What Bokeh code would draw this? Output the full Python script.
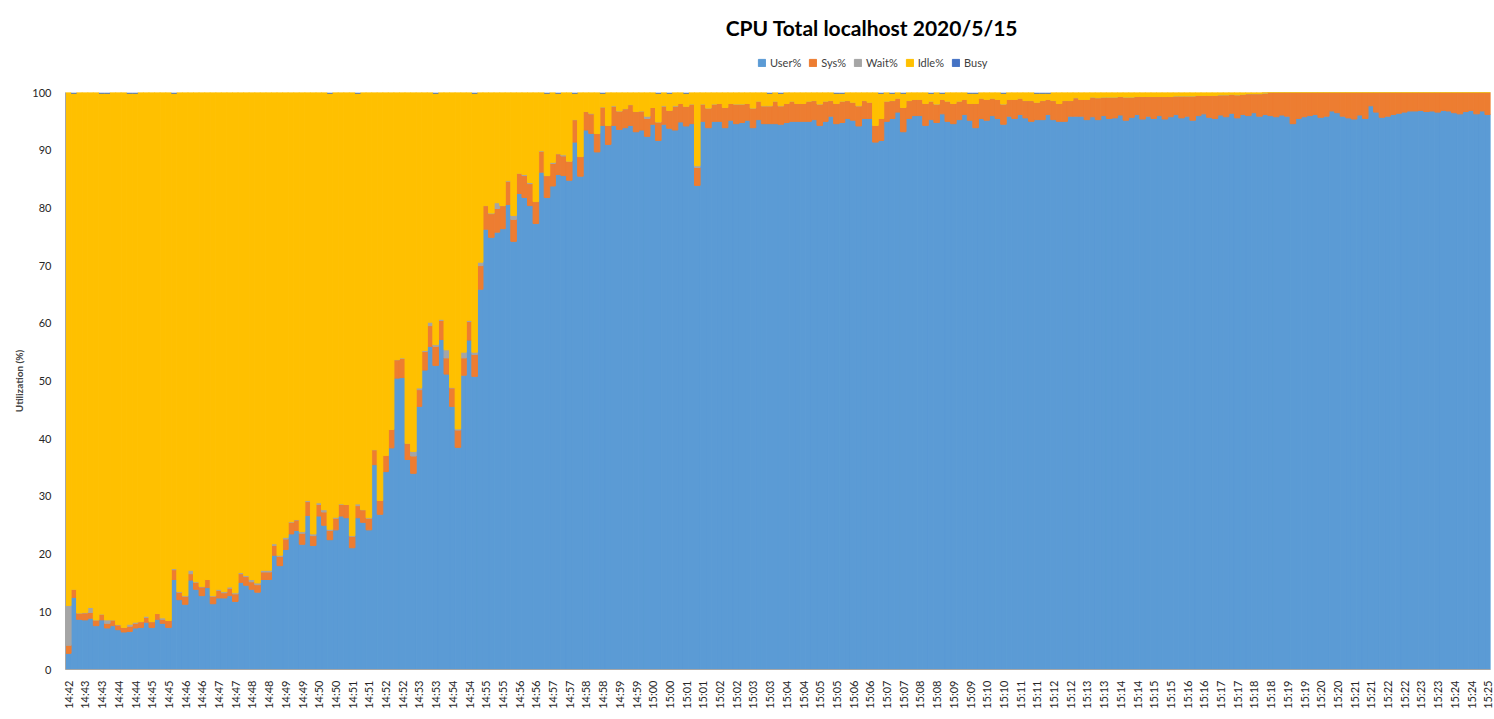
import math
from bokeh.plotting import figure
from bokeh.layouts import column
from bokeh.models import ColumnDataSource, Range1d, FixedTicker, Legend, LegendItem, Label
from bokeh.embed import file_html
from bokeh.resources import INLINE

title_text = "CPU Total localhost  2020/5/15"
series_names = ["User%", "Sys%", "Wait%", "Idle%", "Busy"]
series_colors = ["#5B9BD5", "#ED7D31", "#A5A5A5", "#FFC000", "#4472C4"]

tick_labels = [
    "14:42",
    "14:43", "14:43", "14:44", "14:44", "14:45", "14:45", "14:46", "14:46",
    "14:47", "14:47", "14:48", "14:48", "14:49", "14:49", "14:50", "14:50",
    "14:51", "14:51", "14:52", "14:52", "14:53", "14:53", "14:54", "14:54",
    "14:55", "14:55", "14:56", "14:56", "14:57", "14:57", "14:58", "14:58",
    "14:59", "14:59", "15:00", "15:00", "15:01", "15:01", "15:02", "15:02",
    "15:03", "15:03", "15:04", "15:04", "15:05", "15:05", "15:06", "15:06",
    "15:07", "15:07", "15:08", "15:08", "15:09", "15:09", "15:10", "15:10",
    "15:11", "15:11", "15:12", "15:12", "15:13", "15:13", "15:14", "15:14",
    "15:15", "15:15", "15:16", "15:16", "15:17", "15:17", "15:18", "15:18",
    "15:19", "15:19", "15:20", "15:20", "15:21", "15:21", "15:22", "15:22",
    "15:23", "15:23", "15:24", "15:24",
    "15:25",
]

user = [
    2.8, 12.5, 8.7, 8.6, 8.9, 7.6, 8.6, 7.2, 7.6, 6.9,
    6.5, 6.6, 7.2, 7.3, 8.2, 7.3, 8.7, 8.0, 7.3, 15.6,
    12.1, 11.3, 15.5, 13.9, 12.8, 14.2, 11.4, 12.4, 12.4, 12.8,
    11.8, 15.1, 14.6, 13.9, 13.4, 15.6, 15.6, 19.8, 18.0, 20.8,
    23.5, 24.1, 21.7, 26.7, 21.5, 26.6, 25.0, 22.5, 24.2, 26.6,
    26.3, 21.1, 26.3, 25.5, 24.2, 35.5, 26.9, 34.3, 38.4, 50.5,
    50.6, 36.4, 34.0, 45.6, 51.9, 56.0, 52.7, 57.2, 51.2, 45.6,
    38.5, 51.0, 57.1, 50.8, 65.9, 76.3, 74.9, 75.8, 76.4, 80.6,
    74.2, 82.5, 81.8, 80.4, 77.3, 86.2, 81.8, 83.8, 85.8, 85.6,
    84.8, 91.4, 85.5, 93.5, 92.9, 89.7, 94.3, 91.0, 94.3, 93.6,
    93.9, 94.3, 93.2, 93.5, 92.4, 94.5, 91.7, 94.5, 93.8, 93.5,
    94.9, 94.2, 94.6, 83.9, 95.0, 93.9, 95.0, 95.0, 93.9, 95.2,
    94.6, 94.8, 95.2, 93.9, 95.3, 94.6, 94.6, 94.6, 94.5, 94.8,
    95.0, 95.0, 95.0, 95.0, 95.3, 94.3, 95.0, 95.9, 94.6, 94.8,
    95.5, 95.2, 94.2, 95.5, 95.5, 91.4, 91.7, 95.0, 95.5, 96.6,
    93.2, 95.5, 96.0, 96.0, 94.3, 95.3, 94.8, 96.3, 95.0, 94.6,
    95.3, 96.2, 95.2, 93.9, 95.5, 95.2, 96.0, 95.5, 94.5, 95.9,
    95.5, 96.2, 95.6, 95.0, 95.3, 95.3, 96.2, 95.3, 95.0, 95.0,
    95.9, 95.9, 95.9, 95.3, 95.8, 95.3, 96.0, 95.5, 95.6, 96.1,
    95.2, 95.7, 96.2, 95.4, 95.9, 95.5, 96.0, 95.4, 95.8, 96.2,
    95.6, 95.9, 95.2, 96.0, 96.3, 95.7, 95.5, 96.1, 95.8, 96.4,
    95.6, 96.2, 96.0, 96.5, 95.9, 96.2, 96.0, 95.8, 96.1, 95.9,
    94.6, 95.5, 95.8, 96.0, 96.2, 95.7, 95.9, 96.8, 96.5, 95.9,
    95.6, 95.4, 96.1, 95.5, 97.7, 96.6, 95.7, 95.9, 96.2, 96.4,
    96.6, 96.8, 96.8, 96.9, 96.7, 96.8, 96.6, 96.9, 96.8, 96.5,
    96.3, 96.7, 96.9, 96.3, 96.8, 96.2,
]

sys_pct = [
    1.4, 1.4, 1.1, 1.2, 1.0, 1.0, 1.0, 0.8, 1.0, 0.8,
    0.8, 0.9, 0.8, 1.0, 0.8, 1.0, 1.0, 0.7, 1.2, 1.7,
    1.3, 1.4, 1.1, 1.2, 1.5, 1.4, 1.3, 1.3, 0.9, 1.3,
    1.3, 1.5, 1.5, 1.3, 1.3, 1.3, 1.3, 1.7, 1.6, 1.8,
    2.0, 1.8, 1.9, 2.4, 1.7, 2.0, 2.3, 1.6, 2.0, 2.0,
    2.3, 2.0, 2.1, 2.2, 2.0, 2.6, 2.4, 2.8, 3.2, 3.2,
    3.3, 2.8, 3.0, 2.9, 3.2, 3.6, 3.3, 3.3, 2.8, 3.2,
    3.0, 3.0, 3.2, 3.8, 4.1, 4.1, 4.1, 4.1, 4.0, 4.0,
    3.8, 3.5, 3.8, 3.8, 3.8, 3.6, 3.8, 3.9, 3.6, 3.4,
    3.3, 3.9, 3.4, 3.2, 3.4, 3.2, 3.2, 3.3, 3.3, 3.2,
    3.3, 3.6, 3.5, 3.3, 3.1, 2.9, 3.2, 3.1, 3.1, 4.1,
    3.2, 3.4, 3.4, 3.1, 3.0, 3.4, 3.0, 3.1, 3.5, 2.9,
    3.4, 3.2, 2.9, 3.4, 3.2, 3.1, 3.1, 3.9, 3.2, 3.3,
    3.5, 3.1, 3.1, 3.5, 3.3, 3.7, 3.5, 2.7, 3.5, 3.7,
    3.1, 3.1, 3.5, 3.1, 2.8, 2.9, 3.8, 3.5, 3.1, 2.4,
    4.2, 3.1, 2.8, 2.8, 3.8, 3.2, 3.2, 2.5, 3.5, 3.5,
    3.2, 2.6, 2.9, 4.2, 3.5, 3.6, 3.0, 3.3, 3.5, 2.9,
    3.3, 2.8, 3.0, 3.6, 3.0, 3.3, 2.6, 3.3, 3.1, 3.6,
    2.7, 3.2, 2.9, 3.5, 3.4, 3.8, 3.2, 3.7, 3.6, 3.2,
    4.0, 3.5, 3.1, 3.9, 3.4, 3.8, 3.3, 3.9, 3.5, 3.2,
    3.8, 3.5, 4.2, 3.5, 3.2, 3.8, 4.0, 3.5, 3.8, 3.3,
    4.0, 3.5, 3.8, 3.3, 3.9, 3.7, 4.0, 4.2, 3.9, 4.1,
    5.4, 4.5, 4.2, 4.0, 3.8, 4.3, 4.1, 3.2, 3.5, 4.1,
    4.4, 4.6, 3.9, 4.5, 2.3, 3.4, 4.3, 4.1, 3.8, 3.6,
    3.4, 3.2, 3.2, 3.1, 3.3, 3.2, 3.4, 3.1, 3.2, 3.5,
    3.7, 3.3, 3.1, 3.7, 3.2, 3.8,
]

wait = [
    6.9, 0.0, 0.0, 0.1, 0.85, 0.0, 0.0, 0.6, 0.0, 0.1,
    0.0, 0.35, 0.2, 0.0, 0.25, 0.0, 0.0, 0.25, 0.0, 0.2,
    0.1, 0.1, 0.6, 0.1, 0.1, 0.0, 0.1, 0.2, 0.2, 0.2,
    0.2, 0.2, 0.2, 0.4, 0.3, 0.3, 0.3, 0.3, 0.2, 0.3,
    0.1, 0.1, 0.3, 0.2, 0.3, 0.3, 0.4, 0.2, 0.2, 0.1,
    0.0, 0.1, 0.3, 0.0, 0.1, 0.0, 0.0, 0.0, 0.0, 0.0,
    0.1, 0.0, 0.8, 0.3, 0.2, 0.6, 0.3, 0.2, 1.4, 0.1,
    0.2, 1.0, 0.2, 0.4, 0.6, 0.0, 0.1, 1.0, 0.0, 0.1,
    0.7, 0.0, 0.2, 0.2, 0.0, 0.1, 0.0, 0.2, 0.0, 0.2,
    0.0, 0.0, 0.0, 0.0, 0.1, 0.0, 0.0, 0.0, 0.1, 0.0,
    0.0, 0.0, 0.0, 0.0, 0.4, 0.0, 0.0, 0.1, 0.0, 0.1,
    0.0, 0.0, 0.0, 0.3, 0.0, 0.0, 0.0, 0.0, 0.0, 0.0,
    0.0, 0.0, 0.0, 0.0, 0.0, 0.0, 0.0, 0.0, 0.0, 0.0,
    0.0, 0.0, 0.0, 0.0, 0.0, 0.0, 0.0, 0.0, 0.0, 0.0,
    0.0, 0.0, 0.0, 0.0, 0.0, 0.0, 0.0, 0.0, 0.0, 0.0,
    0.0, 0.0, 0.0, 0.0, 0.0, 0.0, 0.0, 0.0, 0.0, 0.0,
    0.0, 0.0, 0.0, 0.0, 0.0, 0.0, 0.0, 0.0, 0.0, 0.0,
    0.0, 0.0, 0.0, 0.0, 0.0, 0.0, 0.0, 0.0, 0.0, 0.0,
    0.0, 0.0, 0.0, 0.0, 0.0, 0.0, 0.0, 0.0, 0.0, 0.0,
    0.0, 0.0, 0.0, 0.0, 0.0, 0.0, 0.0, 0.0, 0.0, 0.0,
    0.0, 0.0, 0.0, 0.0, 0.0, 0.0, 0.0, 0.0, 0.0, 0.0,
    0.0, 0.0, 0.0, 0.0, 0.0, 0.0, 0.0, 0.0, 0.0, 0.0,
    0.0, 0.0, 0.0, 0.0, 0.0, 0.0, 0.0, 0.0, 0.0, 0.0,
    0.0, 0.0, 0.0, 0.0, 0.0, 0.0, 0.0, 0.0, 0.0, 0.0,
    0.0, 0.0, 0.0, 0.0, 0.0, 0.0, 0.0, 0.0, 0.0, 0.0,
    0.0, 0.0, 0.0, 0.0, 0.0, 0.0,
]

# bars where a thin sliver of the Busy series shows under the 100% line
busy_sliver_bars = [1, 6, 7, 11, 12, 19, 47, 52, 66, 73, 86, 88, 91, 96, 106, 108, 111,
                    126, 128, 138, 139, 146, 148, 150, 155, 157, 162, 163, 168, 174, 175, 176]

n = len(user)
xs = list(range(n))
idle = []
for i in range(n):
    rest = 100.0 - user[i] - sys_pct[i] - wait[i]
    if i in busy_sliver_bars:
        rest -= 0.2
    idle.append(max(0.0, rest))
busy = [u + s for u, s in zip(user, sys_pct)]

src = ColumnDataSource(dict(x=xs, user=user, sys=sys_pct, wait=wait, idle=idle, busy=busy))

W = 1494
HEAD_H = 84
FRAME_L = 65
FRAME_R = 1490

# ---------------- header: title + legend ----------------
head = figure(width=W, height=HEAD_H, output_backend="svg", toolbar_location=None,
              x_range=Range1d(FRAME_L, FRAME_R), y_range=Range1d(0, HEAD_H),
              x_axis_location=None, y_axis_location=None,
              min_border_left=FRAME_L, min_border_right=W - FRAME_R,
              min_border_top=0, min_border_bottom=0)
head.outline_line_color = None
head.xgrid.grid_line_color = None
head.ygrid.grid_line_color = None

# one off-screen row so that legend swatches get drawn
dummy = ColumnDataSource(dict(x=[-1000], top=[0]))
legend_rends = [head.vbar(x="x", top="top", width=1, source=dummy,
                          fill_color=c, line_color=c) for c in series_colors]

legend = Legend(items=[LegendItem(label=nm, renderers=[r]) for nm, r in zip(series_names, legend_rends)],
                orientation="horizontal", location=(757 - FRAME_L, 15))
legend.border_line_color = None
legend.background_fill_alpha = 0
legend.padding = 0
legend.margin = 0
legend.spacing = 7
legend.glyph_width = 9
legend.glyph_height = 9
legend.label_height = 14
legend.label_standoff = 4
legend.label_text_font = "Lato"
legend.label_text_font_size = "11px"
legend.label_text_color = "#404040"
head.add_layout(legend)

title = Label(x=874, y=HEAD_H - 27, text=title_text,
              text_align="center", text_baseline="middle",
              text_font="Lato", text_font_style="bold", text_font_size="21px",
              text_color="#000000")
head.add_layout(title)

# ---------------- main chart ----------------
p = figure(width=W, height=719 - HEAD_H, output_backend="svg", toolbar_location=None,
           x_range=Range1d(-0.5, n - 0.5), y_range=Range1d(0, 100),
           min_border_left=FRAME_L, min_border_right=W - FRAME_R, min_border_top=8, min_border_bottom=50)
p.outline_line_color = None
p.xgrid.grid_line_color = None
p.ygrid.grid_line_color = None
p.background_fill_color = "white"

keys = ["user", "sys", "wait", "idle", "busy"]
rends = p.vbar_stack(keys, x="x", width=1.0, source=src,
                     fill_color=series_colors,
                     line_color=series_colors[:4] + [None],
                     line_width=1.0)

p.yaxis.ticker = FixedTicker(ticks=list(range(0, 101, 10)))
p.yaxis.axis_label = "Utilization (%)"
p.yaxis.axis_label_text_font = "Lato"
p.yaxis.axis_label_text_font_style = "bold"
p.yaxis.axis_label_text_font_size = "10px"
p.yaxis.axis_label_standoff = 4
p.yaxis.major_label_text_font = "Lato"
p.yaxis.major_label_text_font_size = "11px"
p.yaxis.major_label_text_color = "#262626"
p.yaxis.major_label_standoff = 8
p.yaxis.major_tick_line_color = None
p.yaxis.minor_tick_line_color = None
p.yaxis.axis_line_color = "#A6A6A6"

p.xaxis.ticker = FixedTicker(ticks=list(range(0, n, 3)))
p.xaxis.major_label_overrides = {i * 3: lab for i, lab in enumerate(tick_labels)}
p.xaxis.major_label_orientation = math.pi / 2
p.xaxis.major_label_text_font = "Lato"
p.xaxis.major_label_text_font_size = "11px"
p.xaxis.major_label_text_color = "#262626"
p.xaxis.major_label_standoff = 5
p.xaxis.major_tick_line_color = None
p.xaxis.minor_tick_line_color = None
p.xaxis.axis_line_color = "#A6A6A6"

layout = column(head, p, spacing=0)
open("out.html", "w").write(file_html(layout, INLINE))
